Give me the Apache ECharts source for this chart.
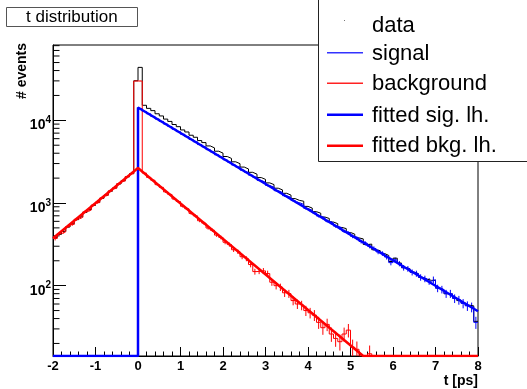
<!DOCTYPE html>
<html>
<head>
<meta charset="utf-8">
<script src="https://cdn.jsdelivr.net/npm/echarts@6/dist/echarts.min.js"></script>
<style>
  html, body { margin: 0; padding: 0; background: #fff; }
  #chart { width: 527px; height: 389px; }
</style>
</head>
<body>
<div id="chart"></div>
<script>
// histogram binning: 100 bins of 0.1 ps from -2 to 8
const binStart = -2;
const binWidth = 0.1;

// events per bin
const dataCounts = [
  380, 418, 455, 512, 560, 628, 680, 770, 830, 935,
  1020, 1140, 1245, 1390, 1520, 1700, 1860, 2070, 2270, 30100,
  43700,
  15200, 13950, 13100, 12000, 11300, 10350, 9700, 8900, 8380, 7650,
  7230, 6600, 6240, 5690, 5380, 4900, 4640, 4230, 4010, 3650,
  3460, 3150, 2990, 2720, 2580, 2350, 2230, 2030, 1930, 1750,
  1670, 1510, 1440, 1310, 1245, 1130, 1075, 1050, 910, 868,
  785, 752, 676, 650, 588, 562, 506, 490, 440, 420,
  378, 368, 315, 318, 272, 265, 245, 232, 196, 215,
  188, 165, 160, 146, 139, 126, 120, 116, 116, 94,
  89, 80, 79, 71, 66, 62, 58, 57, 37
];
const signalCounts = [
  0, 0, 0, 0, 0, 0, 0, 0, 0, 0,
  0, 0, 0, 0, 0, 0, 0, 0, 0, 0,
  13850,
  12800, 11990, 11150, 10380, 9700, 9010, 8420, 7800, 7300, 6780,
  6350, 5880, 5500, 5090, 4780, 4420, 4150, 3830, 3600, 3330,
  3130, 2880, 2720, 2500, 2360, 2170, 2050, 1880, 1780, 1630,
  1550, 1410, 1340, 1225, 1165, 1070, 1010, 960, 860, 815,
  760, 695, 660, 605, 575, 525, 498, 455, 432, 395,
  375, 342, 325, 300, 282, 256, 245, 222, 190, 205,
  185, 165, 160, 145, 140, 126, 121, 113, 118, 93,
  90, 80, 80, 70, 67, 61, 57, 55, 36
];
const backgroundCounts = [
  372, 425, 448, 520, 551, 636, 670, 781, 822, 945,
  1010, 1150, 1236, 1402, 1505, 1718, 1840, 2090, 2255, 29900,
  29900,
  2300, 2040, 1885, 1668, 1546, 1362, 1270, 1118, 1041, 912,
  852, 748, 699, 610, 571, 498, 468, 409, 383, 335,
  314, 272, 258, 224, 212, 180, 148, 150, 151, 140,
  110, 100, 96, 82, 80, 66, 60, 58, 50, 47,
  44, 36, 31, 34, 26, 23, 21, 26, 29, 18,
  17, 0, 0, 15, 0, 0, 0, 0, 0, 0,
  0, 0, 0, 0, 0, 0, 0, 0, 0, 0,
  0, 0, 0, 0, 0, 0, 0, 0, 0
];

// fitted likelihood curves (straight lines on the log scale)
const sigFitT = [-2, 0, 0, 8];
const sigFitV = [0, 0, 14300, 49];
const bkgFitT = [-2, 0, 5.3, 8];
const bkgFitV = [374, 2650, 13.2, 0.9];

// y axis range and minor ticks (2..9 per decade)
const yMin = 14.1;
const yMax = 81500;
const yMinorTicks = [
  20, 30, 40, 50, 60, 70, 80, 90,
  200, 300, 400, 500, 600, 700, 800, 900,
  2000, 3000, 4000, 5000, 6000, 7000, 8000, 9000,
  20000, 30000, 40000, 50000, 60000, 70000, 80000
];

const FONT = "'Liberation Sans', Arial, sans-serif";
const clampY = (v) => Math.max(v, yMin);

function stepData(counts) {
  const pts = counts.map((v, i) => [binStart + i * binWidth, clampY(v)]);
  pts.push([binStart + counts.length * binWidth, clampY(counts[counts.length - 1])]);
  return pts;
}

function errData(counts) {
  return counts
    .map((v, i) => [binStart + (i + 0.5) * binWidth, v])
    .filter((p) => p[1] > 0);
}

function errRender(color) {
  return function (params, api) {
    const t = api.value(0);
    const v = api.value(1);
    const e = Math.sqrt(v);
    const top = api.coord([t, v + e]);
    const bot = api.coord([t, Math.max(v - e, yMin)]);
    return {
      type: "line",
      shape: { x1: top[0], y1: top[1], x2: bot[0], y2: bot[1] },
      style: { stroke: color, lineWidth: 1 },
    };
  };
}

// legend sample: a short horizontal bar
function legendBar(y, h, color) {
  return { type: "rect", shape: { x: 327, y: y, width: 36, height: h }, style: { fill: color } };
}
function legendText(y, text) {
  return { type: "text", x: 372, y: y, style: { text: text, font: "22px " + FONT, fill: "#000", verticalAlign: "middle" } };
}

const chart = echarts.init(document.getElementById("chart"), null, { renderer: "canvas" });

chart.setOption({
  animation: false,
  backgroundColor: "#fff",
  title: {
    text: "t distribution",
    left: 6,
    top: 7,
    padding: [2, 20, 1, 20],
    backgroundColor: "#fff",
    borderColor: "#555",
    borderWidth: 1,
    textStyle: { fontFamily: FONT, fontSize: 17, fontWeight: "normal", color: "#000" },
  },
  grid: {
    left: 53,
    right: 49,
    top: 45,
    bottom: 33,
    show: true,
    borderColor: "#000",
    borderWidth: 1,
  },
  xAxis: {
    type: "value",
    min: -2,
    max: 8,
    interval: 1,
    name: "t [ps]",
    nameLocation: "end",
    nameGap: 0,
    nameTextStyle: {
      fontFamily: FONT, fontSize: 14, fontWeight: "bold", color: "#000",
      align: "right", verticalAlign: "top", padding: [18, 0, 0, 0],
    },
    axisLine: { onZero: false, lineStyle: { color: "#000", width: 1 } },
    axisTick: { inside: true, length: 9, lineStyle: { color: "#000" } },
    minorTick: { show: true, splitNumber: 5, length: 4.5, lineStyle: { color: "#000" } },
    splitLine: { show: false },
    axisLabel: {
      fontFamily: FONT, fontSize: 13, fontWeight: "bold", color: "#000", margin: 4,
    },
  },
  yAxis: {
    type: "log",
    logBase: 10,
    min: yMin,
    max: yMax,
    axisLine: { onZero: false, lineStyle: { color: "#000", width: 1 } },
    axisTick: { inside: true, length: 13, lineStyle: { color: "#000" } },
    splitLine: { show: false },
    axisLabel: {
      showMinLabel: false,
      showMaxLabel: false,
      margin: 2,
      padding: [10, 0, 0, 0],
      formatter: (v) => {
        const p = Math.round(Math.log10(v));
        if (Math.abs(v - Math.pow(10, p)) > 1e-6 * v) return "";
        return "{b|10}{s|" + p + "}";
      },
      rich: {
        b: { fontFamily: FONT, fontSize: 14, fontWeight: "bold", color: "#000", lineHeight: 20 },
        s: { fontFamily: FONT, fontSize: 10, fontWeight: "bold", color: "#000", lineHeight: 10, verticalAlign: "top" },
      },
    },
  },
  graphic: [
    {
      type: "text",
      x: 22,
      y: 43,
      rotation: Math.PI / 2,
      style: {
        text: "# events",
        font: "bold 14px " + FONT,
        fill: "#000",
        align: "right",
        verticalAlign: "middle",
      },
    },
    {
      type: "group",
      z: 100,
      children: [
        {
          type: "rect",
          shape: { x: 318.5, y: -1.5, width: 220, height: 163 },
          style: { fill: "#fff", stroke: "#222", lineWidth: 1 },
        },
        { type: "rect", shape: { x: 344, y: 20, width: 1, height: 1 }, style: { fill: "#777" } },
        legendBar(52, 1.5, "#3333ff"),
        legendBar(82.5, 1.5, "#ff2222"),
        legendBar(113.5, 2.5, "#0000ff"),
        legendBar(144.5, 2.5, "#ff0000"),
        legendText(25.5, "data"),
        legendText(53.5, "signal"),
        legendText(84, "background"),
        legendText(115.5, "fitted sig. lh."),
        legendText(146, "fitted bkg. lh."),
      ],
    },
  ],
  series: [
    {
      name: "yMinorTicks",
      type: "custom",
      silent: true,
      clip: false,
      data: yMinorTicks.map((v) => [-2, v]),
      renderItem: (params, api) => {
        const p = api.coord([api.value(0), api.value(1)]);
        return {
          type: "line",
          shape: { x1: p[0], y1: p[1], x2: p[0] + 6.5, y2: p[1] },
          style: { stroke: "#000", lineWidth: 1 },
        };
      },
    },
    {
      name: "data",
      type: "line",
      step: "end",
      symbol: "none",
      clip: true,
      data: stepData(dataCounts),
      lineStyle: { color: "#000", width: 1 },
    },
    {
      name: "signal",
      type: "line",
      step: "end",
      symbol: "none",
      clip: true,
      data: stepData(signalCounts),
      lineStyle: { color: "#00f", width: 1 },
    },
    {
      name: "signal errors",
      type: "custom",
      clip: true,
      data: errData(signalCounts),
      renderItem: errRender("#00f"),
    },
    {
      name: "background",
      type: "line",
      step: "end",
      symbol: "none",
      clip: true,
      data: stepData(backgroundCounts),
      lineStyle: { color: "#f00", width: 1 },
    },
    {
      name: "background errors",
      type: "custom",
      clip: true,
      data: errData(backgroundCounts),
      renderItem: errRender("#f00"),
    },
    {
      name: "fitted sig. lh.",
      type: "line",
      symbol: "none",
      clip: true,
      data: sigFitT.map((t, i) => [t, clampY(sigFitV[i])]),
      lineStyle: { color: "#00f", width: 2.5 },
    },
    {
      name: "fitted bkg. lh.",
      type: "line",
      symbol: "none",
      clip: true,
      data: bkgFitT.map((t, i) => [t, clampY(bkgFitV[i])]),
      lineStyle: { color: "#f00", width: 2.5 },
    },
  ],
});
</script>
</body>
</html>
